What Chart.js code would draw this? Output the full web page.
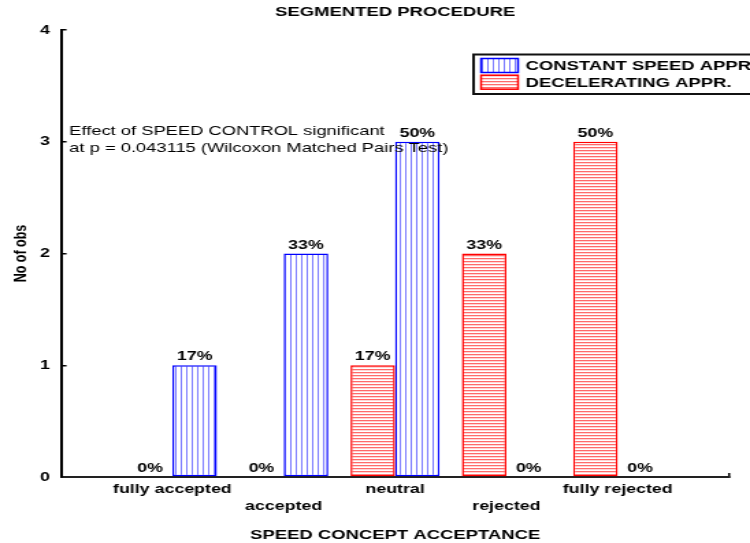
<!DOCTYPE html>
<html>
<head>
<meta charset="utf-8">
<title>Segmented procedure</title>
<script src="https://cdn.jsdelivr.net/npm/chart.js@4.4.0/dist/chart.umd.min.js"></script>
<style>
  html, body { margin: 0; padding: 0; background: #fff; overflow: hidden; }
  /* the reference looks like a horizontally stretched bitmap, so draw narrow and stretch */
  #wrap { width: 548px; height: 543px; transform: scaleX(1.3686); transform-origin: 0 0; }
</style>
</head>
<body>
<div id="wrap"><canvas id="chart" width="548" height="543"></canvas></div>
<script>
// Data
const categories = ['fully accepted', 'accepted', 'neutral', 'rejected', 'fully rejected'];
const constantSpeed = [1, 2, 3, 0, 0];
const decelerating = [0, 0, 1, 2, 3];
const yTicks = [0, 1, 2, 3, 4];
const seriesNames = ['CONSTANT SPEED APPR.', 'DECELERATING APPR.'];
const chartTitle = 'SEGMENTED PROCEDURE';
const xTitle = 'SPEED CONCEPT ACCEPTANCE';
const yTitle = 'No of obs';
const note = ['Effect of SPEED CONTROL significant', 'at p = 0.043115 (Wilcoxon Matched Pairs Test)'];

const FONT = "'Liberation Sans', Arial, sans-serif";

// empty slot on each side, like the original axis
const labels = ['', ...categories, ''];
const pad = arr => [null, ...arr, null];

// Hatch fills
const makePattern = (kind) => {
    const c = document.createElement('canvas');
    const p = c.getContext('2d');
    if (kind === 'vertical') {
        c.width = 4; c.height = 4;
        p.fillStyle = '#fff'; p.fillRect(0, 0, 4, 4);
        p.fillStyle = '#7b7bff'; p.fillRect(0, 0, 1, 4);
    } else {
        c.width = 4; c.height = 3;
        p.fillStyle = '#fff'; p.fillRect(0, 0, 4, 3);
        p.fillStyle = '#ff6a6a'; p.fillRect(0, 0, 4, 1);
        p.fillStyle = '#ffd4d4'; p.fillRect(0, 1, 4, 1);
    }
    return p.createPattern(c, 'repeat');
};
const bluePattern = makePattern('vertical');
const redPattern = makePattern('horizontal');

// Title, legend, percentages and the test note
const decorations = {
    id: 'decorations',
    afterDatasetsDraw(chart) {
        const ctx = chart.ctx;
        const area = chart.chartArea;
        ctx.save();
        ctx.fillStyle = '#000';
        ctx.textBaseline = 'middle';

        // percentage above each bar
        ctx.font = 'bold 13px ' + FONT;
        ctx.textAlign = 'center';
        chart.data.datasets.forEach((ds, di) => {
            const total = ds.data.reduce((a, v) => a + (v || 0), 0);
            chart.getDatasetMeta(di).data.forEach((bar, i) => {
                const v = ds.data[i];
                if (v === null) return;
                ctx.fillText(Math.round(v / total * 100) + '%', bar.x, bar.y - 8.5);
            });
        });

        // significance note
        const y3 = chart.scales.y.getPixelForValue(3);
        ctx.font = '13.4px ' + FONT;
        ctx.textAlign = 'left';
        ctx.fillText(note[0], area.left + 6, y3 - 10.5);
        ctx.fillText(note[1], area.left + 6, y3 + 7);
        ctx.restore();
    },
    afterDraw(chart) {
        const ctx = chart.ctx;
        const area = chart.chartArea;
        ctx.save();
        ctx.fillStyle = '#000';
        ctx.textBaseline = 'middle';

        // main title, centred over the plot
        ctx.font = 'bold 13.5px ' + FONT;
        ctx.textAlign = 'center';
        ctx.fillText(chartTitle, (area.left + area.right) / 2, 12);

        // legend box (runs off the right edge like the original)
        const x0 = chart.width - 202;
        const y0 = area.top + 24.5;
        ctx.strokeStyle = '#111';
        ctx.lineWidth = 2;
        ctx.strokeRect(x0, y0, 300, 39.5);
        ctx.textAlign = 'left';
        const order = [1, 0];
        order.forEach((di, row) => {
            const ds = chart.data.datasets[di];
            const sy = y0 + 4 + row * 16.7;
            ctx.fillStyle = ds.backgroundColor;
            ctx.fillRect(x0 + 5.5, sy, 27, 14);
            ctx.strokeStyle = ds.borderColor;
            ctx.lineWidth = 1.5;
            ctx.strokeRect(x0 + 5.5, sy, 27, 14);
            ctx.fillStyle = '#000';
            ctx.fillText(ds.label, x0 + 38, sy + 8);
        });
        ctx.restore();
    }
};

const ctx = document.getElementById('chart').getContext('2d');

const chart = new Chart(ctx, {
    type: 'bar',
    data: {
        labels: labels,
        datasets: [
            {
                label: seriesNames[1],
                data: pad(decelerating),
                backgroundColor: redPattern,
                borderColor: '#ff0000',
                borderWidth: 1.5,
                borderSkipped: false,
                categoryPercentage: 0.8,
                barPercentage: 1
            },
            {
                label: seriesNames[0],
                data: pad(constantSpeed),
                backgroundColor: bluePattern,
                borderColor: '#0000ff',
                borderWidth: 1.5,
                borderSkipped: false,
                categoryPercentage: 0.8,
                barPercentage: 1
            }
        ]
    },
    options: {
        responsive: false,
        animation: false,
        devicePixelRatio: 1,
        layout: { padding: { left: 0, right: 15.3, top: 30, bottom: 0 } },
        plugins: {
            legend: { display: false },
            title: { display: false },
            tooltip: { enabled: false }
        },
        scales: {
            x: {
                type: 'category',
                offset: false,
                grid: {
                    display: true,
                    offset: false,
                    drawOnChartArea: false,
                    tickLength: -4,
                    lineWidth: 1.5,
                    // only the closing tick at the right end of the axis
                    color: c => c.index === labels.length - 1 ? '#000' : 'rgba(0,0,0,0)'
                },
                border: { display: true, color: '#222', width: 2 },
                ticks: {
                    autoSkip: false,
                    maxRotation: 0,
                    minRotation: 0,
                    padding: 8,
                    color: '#000',
                    font: { family: FONT, size: 13, weight: 'bold', lineHeight: 1.3 },
                    callback: function(value, index) {
                        const text = this.getLabelForValue(value);
                        // labels alternate between two rows
                        return index % 2 === 0 ? ['', text] : text;
                    }
                },
                title: {
                    display: true,
                    text: xTitle,
                    color: '#000',
                    font: { family: FONT, size: 13.5, weight: 'bold' },
                    padding: { top: 0, bottom: 0 }
                },
                afterFit: scale => { scale.height = 66; }
            },
            y: {
                min: 0,
                max: 4,
                grid: {
                    drawOnChartArea: false,
                    tickLength: -4,
                    lineWidth: 1.5,
                    color: '#000'
                },
                border: { display: true, color: '#000', width: 2 },
                ticks: {
                    padding: 12,
                    color: '#000',
                    font: { family: FONT, size: 13, weight: 'bold' }
                },
                afterBuildTicks: scale => { scale.ticks = yTicks.map(v => ({ value: v })); },
                title: {
                    display: true,
                    text: yTitle,
                    color: '#000',
                    font: { family: FONT, size: 12.5, weight: 'bold' },
                    padding: { top: 8.2, bottom: 0 }
                },
                afterFit: scale => { scale.width = 44.6; }
            }
        }
    },
    plugins: [decorations]
});
</script>
</body>
</html>
